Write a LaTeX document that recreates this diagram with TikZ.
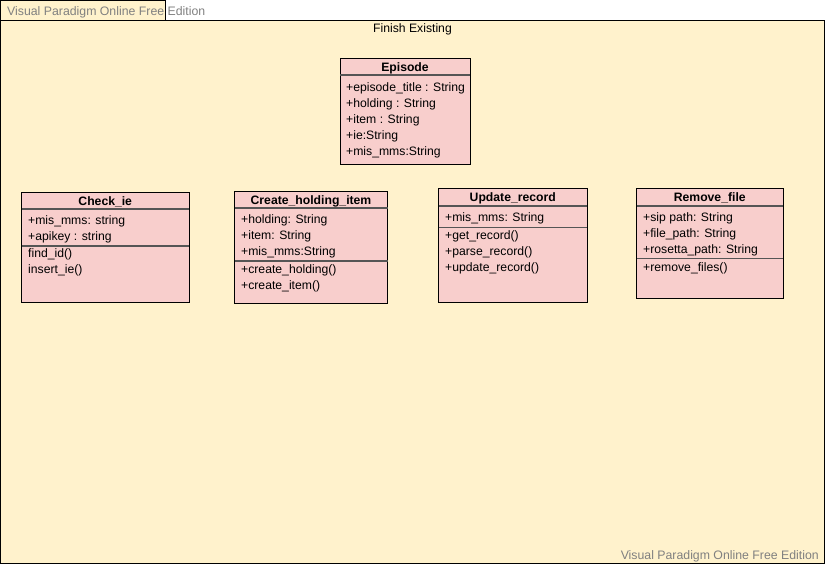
\documentclass[tikz,border=0pt]{standalone}
\usepackage{fontspec}
\setmainfont{Liberation Sans}
\definecolor{cream}{HTML}{FFF2CC}
\definecolor{classpink}{HTML}{F8CECC}
\definecolor{sepgray}{HTML}{555555}
\definecolor{wmgray}{HTML}{808080}
\begin{document}
\begin{tikzpicture}[x=1pt,y=-1pt,
  frame/.style={draw=black, fill=cream, line width=1pt},
  classbox/.style={draw=black, fill=classpink, line width=1pt, inner sep=0pt, outer sep=0pt, anchor=north west},
  sepline/.style={draw=sepgray, line width=1.5pt},
  attr/.style={anchor=west, inner sep=0pt, text height=13pt, text depth=3pt, font=\fontsize{12.2}{14}\selectfont},
  head/.style={inner sep=0pt, text height=13pt, text depth=3pt, font=\bfseries\fontsize{12.2}{14}\selectfont},
  wm/.style={inner sep=0pt, text=wmgray, text height=13pt, text depth=3pt, font=\fontsize{12.3}{14}\selectfont}]
\useasboundingbox (0,0) rectangle (825,564);
% package frame
\draw[frame] (0.5,20.5) rectangle (824,563);
\draw[frame] (0.5,0.5) rectangle (165,20.5);
\node[wm, anchor=west] (wmtop) at (7,11) {Visual Paradigm Online Free Edition};
\node[wm, anchor=east] (wmbot) at (819,554) {Visual Paradigm Online Free Edition};
\node[attr, anchor=center] (title) at (412.5,28) {Finish Existing};
% Episode
\node[classbox, minimum width=130pt, minimum height=106pt] (episode) at (340,59) {};
\draw[sepline] (340,75) -- (470,75);
\node[head] (episodeh) at (405,67) {Episode};
\node[attr] (e1) at (346,87) {+episode\_title : String};
\node[attr] (e2) at (346,103) {+holding : String};
\node[attr] (e3) at (346,119) {+item : String};
\node[attr] (e4) at (346,135) {+ie:String};
\node[attr] (e5) at (346,151) {+mis\_mms:String};
% Check_ie
\node[classbox, minimum width=167.5pt, minimum height=109.5pt] (checkie) at (21.5,192.5) {};
\draw[sepline] (21.5,209) -- (189,209);
\draw[sepline] (21.5,246) -- (189,246);
\node[head] (checkieh) at (105.25,200.5) {Check\_ie};
\node[attr] (c1) at (28,220) {+mis\_mms: string};
\node[attr] (c2) at (28,236) {+apikey : string};
\node[attr] (c3) at (28,253) {find\_id()};
\node[attr] (c4) at (28,269) {insert\_ie()};
% Create_holding_item
\node[classbox, minimum width=153pt, minimum height=111pt] (create) at (234.5,192) {};
\draw[sepline] (234.5,208) -- (387.5,208);
\draw[sepline] (234.5,261) -- (387.5,261);
\node[head] (createh) at (311,199.5) {Create\_holding\_item};
\node[attr] (h1) at (241,219) {+holding: String};
\node[attr] (h2) at (241,235) {+item: String};
\node[attr] (h3) at (241,251) {+mis\_mms:String};
\node[attr] (h4) at (241,269) {+create\_holding()};
\node[attr] (h5) at (241,285) {+create\_item()};
% Update_record
\node[classbox, minimum width=148.5pt, minimum height=113.5pt] (update) at (438.5,189) {};
\draw[sepline] (438.5,206) -- (587,206);
\draw[sepline] (438.5,227.5) -- (587,227.5);
\node[head] (updateh) at (512.75,197) {Update\_record};
\node[attr] (u1) at (445,217) {+mis\_mms: String};
\node[attr] (u2) at (445,235) {+get\_record()};
\node[attr] (u3) at (445,251) {+parse\_record()};
\node[attr] (u4) at (445,267) {+update\_record()};
% Remove_file
\node[classbox, minimum width=146.5pt, minimum height=109pt] (remove) at (636.5,189) {};
\draw[sepline] (636.5,206) -- (783,206);
\draw[sepline] (636.5,258.5) -- (783,258.5);
\node[head] (removeh) at (709.75,197) {Remove\_file};
\node[attr] (r1) at (643,217) {+sip path: String};
\node[attr] (r2) at (643,233) {+file\_path: String};
\node[attr] (r3) at (643,249) {+rosetta\_path: String};
\node[attr] (r4) at (643,267) {+remove\_files()};
\end{tikzpicture}
\end{document}
